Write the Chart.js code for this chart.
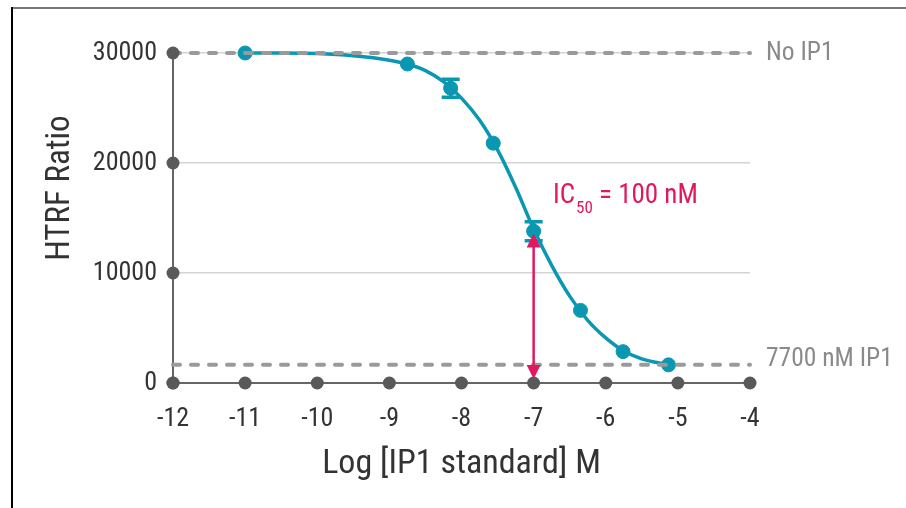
<!DOCTYPE html>
<html>
<head>
<meta charset="utf-8">
<script src="https://cdn.jsdelivr.net/npm/chart.js@4.4.1/dist/chart.umd.min.js"></script>
<style>
  body { margin: 0; background: #fff; }
  #wrap { width: 906px; height: 508px; position: relative; }
</style>
</head>
<body>
<div id="wrap"><canvas id="chart"></canvas></div>
<script>
// measured points (log M) with error bars
const logConc = [-11, -8.75, -8.15, -7.56, -7.0, -6.35, -5.76, -5.13];
const htrfRatio = [30000, 29000, 26800, 21800, 13800, 6600, 2850, 1650];
const htrfErr = [0, 0, 820, 0, 860, 0, 0, 0];

// fitted curve
const fitLogConc = [-11, -10.5, -10, -9.5, -9, -8.75, -8.5, -8.25, -8, -7.75, -7.5, -7.25, -7, -6.75, -6.5, -6.25, -6, -5.75, -5.5, -5.13];
const fitRatio = [30000, 30000, 29950, 29750, 29350, 29000, 28400, 27400, 25900, 23900, 21200, 17800, 14000, 10700, 7900, 5700, 4100, 2900, 2200, 1650];

// reference levels
const noIp1Level = 30000;
const maxIp1Level = 1650;
const levelLabels = ["No IP1", "7700 nM IP1"];

// ticks
const xTickValues = [-12, -11, -10, -9, -8, -7, -6, -5, -4];
const yTickValues = [0, 10000, 20000, 30000];

// IC50 marker
const ic50Log = -7;
const ic50Top = 13600;

const FONT = "'Liberation Sans Narrow', 'Roboto Condensed', 'Roboto', sans-serif";
const TEAL = '#0a97b2';
const PINK = '#e2185f';

const extras = {
  id: 'extras',
  beforeDraw(chart) {
    const ctx = chart.ctx;
    ctx.save();
    ctx.fillStyle = '#777';
    ctx.fillRect(11, 7, 906 - 11, 2);
    ctx.fillStyle = '#000';
    ctx.fillRect(11, 7, 2, 508 - 7);

    // y axis title
    ctx.translate(61, 188);
    ctx.rotate(-Math.PI / 2);
    ctx.fillStyle = '#333';
    ctx.font = '33px ' + FONT;
    ctx.textAlign = 'center';
    ctx.textBaseline = 'middle';
    ctx.fillText('HTRF Ratio', 0, 0);
    ctx.restore();
  },
  afterDatasetsDraw(chart) {
    const ctx = chart.ctx;
    const xs = chart.scales.x, ys = chart.scales.y;
    ctx.save();

    // error bars
    ctx.strokeStyle = TEAL;
    ctx.lineWidth = 3.5;
    logConc.forEach((x, i) => {
      if (!htrfErr[i]) return;
      const px = xs.getPixelForValue(x);
      const top = ys.getPixelForValue(htrfRatio[i] + htrfErr[i]);
      const bot = ys.getPixelForValue(htrfRatio[i] - htrfErr[i]);
      ctx.beginPath();
      ctx.moveTo(px, top); ctx.lineTo(px, bot);
      ctx.moveTo(px - 9, top); ctx.lineTo(px + 9, top);
      ctx.moveTo(px - 9, bot); ctx.lineTo(px + 9, bot);
      ctx.stroke();
    });

    // tick dots on axes
    ctx.fillStyle = '#58595b';
    const left = chart.chartArea.left, bottom = chart.chartArea.bottom;
    yTickValues.forEach(v => {
      ctx.beginPath();
      ctx.arc(left, ys.getPixelForValue(v), 6.5, 0, Math.PI * 2);
      ctx.fill();
    });
    xTickValues.forEach(v => {
      ctx.beginPath();
      ctx.arc(xs.getPixelForValue(v), bottom, 6.5, 0, Math.PI * 2);
      ctx.fill();
    });

    // double arrow at IC50
    const ax = xs.getPixelForValue(ic50Log);
    const aTop = ys.getPixelForValue(ic50Top);
    const aBot = bottom - 4;
    ctx.strokeStyle = PINK;
    ctx.fillStyle = PINK;
    ctx.lineWidth = 2.5;
    ctx.beginPath();
    ctx.moveTo(ax, aTop + 10); ctx.lineTo(ax, aBot - 10);
    ctx.stroke();
    ctx.beginPath();
    ctx.moveTo(ax, aTop); ctx.lineTo(ax - 7, aTop + 14); ctx.lineTo(ax + 7, aTop + 14);
    ctx.closePath(); ctx.fill();
    ctx.beginPath();
    ctx.moveTo(ax, aBot); ctx.lineTo(ax - 7, aBot - 14); ctx.lineTo(ax + 7, aBot - 14);
    ctx.closePath(); ctx.fill();

    // IC50 label
    ctx.textBaseline = 'alphabetic';
    ctx.textAlign = 'left';
    let tx = 553;
    ctx.font = '27px ' + FONT;
    ctx.fillText('IC', tx, 203);
    tx += ctx.measureText('IC').width + 1;
    ctx.font = '17px ' + FONT;
    ctx.fillText('50', tx, 213);
    tx += ctx.measureText('50').width;
    ctx.font = '27px ' + FONT;
    ctx.fillText(' = 100 nM', tx, 203);

    // level labels
    ctx.fillStyle = '#8a8a8a';
    ctx.font = '25.5px ' + FONT;
    ctx.textBaseline = 'middle';
    ctx.fillText(levelLabels[0], 766, ys.getPixelForValue(noIp1Level) + 1);
    ctx.fillText(levelLabels[1], 766, ys.getPixelForValue(maxIp1Level) - 5);
    ctx.restore();
  }
};

new Chart(document.getElementById('chart'), {
  type: 'scatter',
  data: {
    datasets: [
      {
        label: 'No IP1',
        type: 'line',
        data: [{ x: -12, y: noIp1Level }, { x: -4, y: noIp1Level }],
        borderColor: '#9a9a9a',
        borderWidth: 4,
        borderDash: [7, 11],
        borderCapStyle: 'round',
        pointRadius: 0,
        clip: false,
        order: 0
      },
      {
        label: '7700 nM IP1',
        type: 'line',
        data: [{ x: -12, y: maxIp1Level }, { x: -4, y: maxIp1Level }],
        borderColor: '#9a9a9a',
        borderWidth: 4,
        borderDash: [7, 11],
        borderCapStyle: 'round',
        pointRadius: 0,
        clip: false,
        order: 0
      },
      {
        label: 'Points',
        data: logConc.map((x, i) => ({ x: x, y: htrfRatio[i] })),
        backgroundColor: TEAL,
        borderColor: TEAL,
        pointRadius: 7,
        clip: false,
        order: 1
      },
      {
        label: 'Fit',
        type: 'line',
        data: fitLogConc.map((x, i) => ({ x: x, y: fitRatio[i] })),
        borderColor: TEAL,
        borderWidth: 3.5,
        cubicInterpolationMode: 'monotone',
        pointRadius: 0,
        clip: false,
        order: 2
      }
    ]
  },
  options: {
    responsive: true,
    maintainAspectRatio: false,
    animation: false,
    layout: { padding: { left: 42, top: 53, right: 156, bottom: 23 } },
    plugins: { legend: { display: false }, tooltip: { enabled: false } },
    scales: {
      x: {
        type: 'linear',
        min: -12,
        max: -4,
        afterBuildTicks: s => { s.ticks = xTickValues.map(v => ({ value: v })); },
        afterFit: s => { s.height = 102; },
        ticks: {
          color: '#333',
          font: { family: FONT, size: 26 },
          padding: 21,
          callback: v => String(v)
        },
        grid: { display: false, drawTicks: false },
        border: { display: true, color: '#666', width: 2 },
        title: {
          display: true,
          text: 'Log [IP1 standard] M',
          color: '#333',
          font: { family: FONT, size: 34 },
          padding: 0
        }
      },
      y: {
        min: 0,
        max: 30000,
        afterBuildTicks: s => { s.ticks = yTickValues.map(v => ({ value: v })); },
        afterFit: s => { s.width = 131; },
        ticks: {
          color: '#333',
          font: { family: FONT, size: 26 },
          padding: 16,
          callback: v => String(v)
        },
        grid: { color: '#d4d4d4', lineWidth: 1.5, drawTicks: false },
        border: { display: true, color: '#666', width: 2 }
      }
    }
  },
  plugins: [extras]
});
</script>
</body>
</html>
